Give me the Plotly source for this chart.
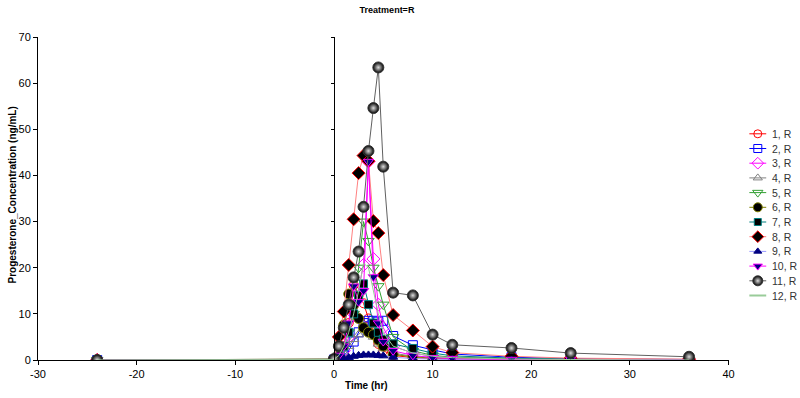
import plotly.graph_objects as go

times = [-24, 0, 0.5, 1, 1.5, 2, 2.5, 3, 3.5, 4, 4.5, 5, 6, 8, 10, 12, 18, 24, 36]

s1 = [0, 0.1, 1.0, 3.0, 8.0, 16.2, 14.0, 12.3, 9.0, 6.0, 3.5, 2.0, 1.0, 0.5, 0.3, 0.2, 0.1, 0.1, 0.0]
s2 = [0, 0.1, 0.5, 1.0, 2.0, 4.0, 6.0, 8.0, 8.5, 8.5, 8.3, 8.5, 5.2, 3.2, 2.2, 1.3, 0.6, 0.3, 0.1]
s3 = [0, 0.1, 0.8, 2.0, 5.0, 10.0, 15.0, 20.6, 43.0, 21.9, 12.0, 7.0, 3.0, 1.5, 0.8, 0.5, 0.3, 0.1, 0.0]
s4 = [0, 0.1, 0.5, 1.5, 3.0, 4.5, 5.5, 6.7, 6.0, 5.0, 3.5, 2.5, 1.5, 0.8, 0.5, 0.3, 0.1, 0.1, 0.0]
s5 = [0, 0.1, 1.0, 3.0, 6.0, 10.0, 20.0, 30.0, 25.8, 20.0, 16.0, 12.0, 5.0, 2.0, 1.0, 0.6, 0.3, 0.1, 0.0]
s6 = [0, 0.2, 3.0, 7.6, 14.3, 11.9, 9.0, 7.0, 6.0, 5.5, 4.3, 3.0, 1.2, 0.7, 0.4, 0.3, 0.2, 0.1, 0.0]
s7 = [0, 0.1, 1.0, 3.0, 6.0, 10.0, 14.0, 16.5, 12.0, 8.0, 6.0, 4.5, 3.5, 2.5, 1.5, 0.9, 0.4, 0.2, 0.1]
s8 = [0, 0.1, 5.0, 10.5, 20.6, 30.5, 40.5, 44.3, 43.1, 30.1, 27.5, 18.4, 9.75, 6.4, 2.9, 1.6, 0.8, 0.4, 0.2]
s9 = [0, 0.0, 0.1, 0.3, 0.5, 0.8, 1.0, 1.1, 1.1, 1.1, 1.0, 0.9, 0.6, 0.3, 0.2, 0.1, 0.0, 0.0, 0.0]
s10 = [0, 0.1, 1.0, 3.0, 8.0, 16.0, 12.6, 15.0, 43.0, 18.0, 8.0, 4.0, 2.0, 1.0, 0.5, 0.3, 0.1, 0.1, 0.0]
s11 = [0, 0.2, 3.0, 7.0, 12.0, 17.9, 23.5, 33.2, 45.3, 54.6, 63.4, 41.9, 14.6, 14.0, 5.5, 3.3, 2.6, 1.5, 0.7]
s12 = [0, 0.1, 1.0, 3.0, 6.0, 10.0, 15.0, 21.0, 20.0, 15.0, 10.0, 6.0, 3.0, 1.5, 0.8, 0.5, 0.2, 0.1, 0.0]

names = ["1, R", "2, R", "3, R", "4, R", "5, R", "6, R", "7, R", "8, R", "9, R", "10, R", "11, R", "12, R"]
series = [s1, s2, s3, s4, s5, s6, s7, s8, s9, s10, s11, s12]

x_tickvals = [-30, -20, -10, 0, 10, 20, 30, 40]
x_ticktext = ["-30", "-20", "-10", "0", "10", "20", "30", "40"]

styles = [
    dict(line="#FF0000", symbol="circle-open", mcolor="#FF0000", mline="#FF0000", size=9),
    dict(line="#0000FF", symbol="square-open", mcolor="#0000FF", mline="#0000FF", size=9),
    dict(line="#FF00FF", symbol="diamond-open", mcolor="#FF00FF", mline="#FF00FF", size=10),
    dict(line="#808080", symbol="triangle-up-open", mcolor="#808080", mline="#808080", size=9),
    dict(line="#33A033", symbol="triangle-down-open", mcolor="#33A033", mline="#33A033", size=10),
    dict(line="#808000", symbol="circle", mcolor="#000000", mline="#808000", size=10),
    dict(line="#008080", symbol="square", mcolor="#000000", mline="#008080", size=8),
    dict(line="#FF8080", symbol="diamond", mcolor="#000000", mline="#FF0000", size=10),
    dict(line="#9999FF", symbol="triangle-up", mcolor="#000080", mline="#000080", size=8),
    dict(line="#FF00FF", symbol="triangle-down", mcolor="#000080", mline="#FF00FF", size=9),
    dict(line="#606060", symbol="circle", mcolor="#000000", mline="#333333", size=11),
    dict(line="#99CC99", symbol=None, mcolor=None, mline=None, size=0),
]

W, H = 800, 398
L, T, B = 38, 37, 38
PLOT_R = 734            # right edge of the main plot area (pixels)
PW = W - L              # paper width (right margin 0)
main_frac = (PLOT_R - L) / PW

def make_marker(name, st, legend=False):
    m = dict(symbol=st["symbol"], size=st["size"] - (1 if legend else 0), color=st["mcolor"],
             line=dict(color=st["mline"], width=1))
    if name == "11, R":
        m["gradient"] = dict(type="radial", color="#DDDDDD")
    return m

fig = go.Figure()
for name, vals, st in zip(names, series, styles):
    if st["symbol"] is None:
        fig.add_trace(go.Scatter(x=times, y=vals, name=name, mode="lines",
                                 line=dict(color=st["line"], width=1), showlegend=False))
    else:
        fig.add_trace(go.Scatter(x=times, y=vals, name=name, mode="lines+markers",
                                 line=dict(color=st["line"], width=1),
                                 marker=make_marker(name, st), showlegend=False))

# invisible trace to hold the axis drawn at x = 0
fig.add_trace(go.Scatter(x=[0], y=[0], yaxis="y2", mode="markers",
                         marker=dict(opacity=0), showlegend=False, hoverinfo="skip"))

# hand-drawn legend on its own pixel-scaled axes in the right strip
LEG_X0 = PLOT_R + 6
annotations = []
for i, (name, st) in enumerate(zip(names, styles)):
    yc = 133.8 + i * 14.7
    fig.add_trace(go.Scatter(x=[755, 772], y=[yc, yc], xaxis="x3", yaxis="y3", mode="lines",
                             line=dict(color=st["line"], width=1 if st["symbol"] else 2),
                             showlegend=False, hoverinfo="skip"))
    if st["symbol"] is not None:
        fig.add_trace(go.Scatter(x=[763.5], y=[yc], xaxis="x3", yaxis="y3", mode="markers",
                                 marker=make_marker(name, st, legend=True),
                                 showlegend=False, hoverinfo="skip"))
    annotations.append(dict(text=name, x=776, y=yc, xref="x3", yref="y3", xanchor="left",
                            yanchor="middle", showarrow=False,
                            font=dict(size=10.5, color="#333333")))

annotations += [
    dict(text="<b>Time (hr)</b>", xref="paper", yref="paper", x=(369 - L) / PW, xanchor="center",
         y=(H - B - 385) / (H - T - B), yanchor="middle", showarrow=False, font=dict(size=10)),
    dict(text="<b>Progesterone_Concentration (ng/mL)</b>", xref="paper", yref="paper",
         x=(12 - L) / PW, xanchor="center", y=0.51, yanchor="middle", textangle=-90,
         showarrow=False, font=dict(size=10)),
]

fig.update_layout(
    width=W, height=H,
    margin=dict(l=L, r=0, t=T, b=B),
    plot_bgcolor="white", paper_bgcolor="white",
    showlegend=False,
    font=dict(family="Arial, Liberation Sans", size=11, color="black"),
    title=dict(text="<b>Treatment=R</b>", x=387 / W, xref="container", xanchor="center",
               y=1 - 10 / H, yref="container", yanchor="middle",
               font=dict(size=9, color="black")),
    xaxis=dict(domain=[0, main_frac], range=[-30, 40], tickvals=x_tickvals, ticktext=x_ticktext,
               showgrid=False, zeroline=False, showline=True, linecolor="black", linewidth=1,
               ticks="outside", ticklen=4, tickcolor="black", tickfont=dict(size=11)),
    yaxis=dict(range=[0, 70], dtick=10, showgrid=False, zeroline=False,
               showline=True, linecolor="black", linewidth=1, ticks="outside", ticklen=4,
               tickcolor="black", tickfont=dict(size=11)),
    yaxis2=dict(range=[0, 70], dtick=10, overlaying="y", anchor="free",
                position=(30 / 70) * main_frac,
                showgrid=False, zeroline=False, showline=True, linecolor="black", linewidth=1,
                ticks="outside", ticklen=3, tickcolor="black", showticklabels=False),
    xaxis3=dict(domain=[(LEG_X0 - L) / PW, 1], range=[LEG_X0, W], visible=False,
                anchor="y3"),
    yaxis3=dict(domain=[0, 1], range=[H - B, T], visible=False, anchor="x3"),
    annotations=annotations,
)

fig.write_html("out.html", config={"displayModeBar": False},
               post_script="document.body.style.margin='0';document.body.style.padding='0';")
